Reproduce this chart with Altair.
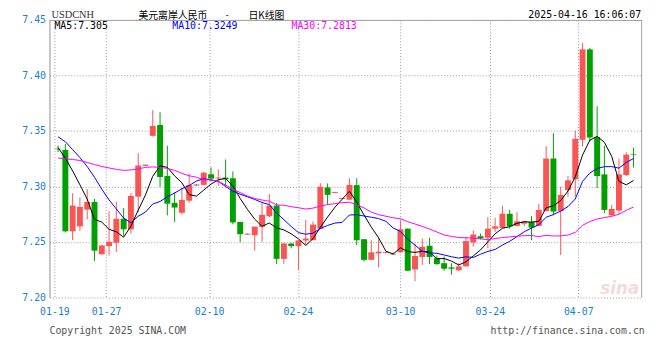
import altair as alt
import pandas as pd

# ---- data (USDCNH daily K-line) ----
opens = [7.3340, 7.3330, 7.2596, 7.2641, 7.2792, 7.2860, 7.2389, 7.2463, 7.2493, 7.2709,
         7.2614, 7.2908, 7.3186, 7.3456, 7.3554, 7.3094, 7.2852, 7.2763, 7.2872, 7.3008,
         7.3014, 7.3110, 7.3072, 7.3080, 7.3074, 7.2680, 7.2566, 7.2561, 7.2636, 7.2733,
         7.2828, 7.2348, 7.2486, 7.2463, 7.2513, 7.2516, 7.2620, 7.2991, 7.2942, 7.2887,
         7.2881, 7.3012, 7.2525, 7.2339, 7.2398, 7.2400, 7.2387, 7.2407, 7.2620, 7.2253,
         7.2365, 7.2466, 7.2354, 7.2309, 7.2271, 7.2245, 7.2280, 7.2496, 7.2552, 7.2538,
         7.2620, 7.2627, 7.2754, 7.2645, 7.2665, 7.2680, 7.2645, 7.2778, 7.3252, 7.2778,
         7.2967, 7.3065, 7.3420, 7.4235, 7.3444, 7.3109, 7.2739, 7.2783, 7.3103, 7.3290]
highs = [7.3370, 7.3382, 7.2940, 7.2902, 7.2976, 7.2887, 7.2472, 7.2775, 7.2863, 7.2805,
         7.2940, 7.3302, 7.3200, 7.3687, 7.3669, 7.3367, 7.2947, 7.2988, 7.3116, 7.3022,
         7.3130, 7.3172, 7.3154, 7.3243, 7.3136, 7.2682, 7.2578, 7.2638, 7.2852, 7.2932,
         7.2852, 7.2487, 7.2488, 7.2516, 7.2700, 7.2685, 7.3030, 7.3027, 7.2952, 7.2897,
         7.3074, 7.3074, 7.2527, 7.2516, 7.2531, 7.2412, 7.2405, 7.2694, 7.2622, 7.2487,
         7.2531, 7.2538, 7.2378, 7.2369, 7.2309, 7.2309, 7.2547, 7.2605, 7.2576, 7.2724,
         7.2718, 7.2828, 7.2790, 7.2769, 7.2688, 7.2733, 7.2843, 7.3361, 7.3480, 7.3000,
         7.3094, 7.3503, 7.4294, 7.4249, 7.3723, 7.3367, 7.2834, 7.3249, 7.3308, 7.3350]
lows = [7.3310, 7.2585, 7.2517, 7.2600, 7.2703, 7.2330, 7.2387, 7.2378, 7.2410, 7.2556,
        7.2576, 7.2769, 7.3185, 7.3450, 7.2996, 7.2739, 7.2680, 7.2748, 7.2852, 7.3006,
        7.3012, 7.3047, 7.3005, 7.3005, 7.2659, 7.2499, 7.2564, 7.2422, 7.2502, 7.2724,
        7.2300, 7.2303, 7.2443, 7.2247, 7.2472, 7.2516, 7.2620, 7.2834, 7.2940, 7.2885,
        7.2881, 7.2472, 7.2324, 7.2339, 7.2271, 7.2398, 7.2385, 7.2407, 7.2241, 7.2147,
        7.2294, 7.2300, 7.2294, 7.2241, 7.2205, 7.2241, 7.2280, 7.2458, 7.2523, 7.2443,
        7.2591, 7.2627, 7.2620, 7.2641, 7.2643, 7.2516, 7.2645, 7.2778, 7.2739, 7.2383,
        7.2907, 7.2907, 7.3361, 7.3405, 7.2985, 7.2760, 7.2739, 7.2754, 7.3094, 7.3170]
closes = [7.3335, 7.2596, 7.2828, 7.2816, 7.2860, 7.2422, 7.2469, 7.2502, 7.2709, 7.2614,
          7.2914, 7.3189, 7.3196, 7.3545, 7.3085, 7.2845, 7.2810, 7.2878, 7.3012, 7.3018,
          7.3124, 7.3071, 7.3080, 7.3065, 7.2676, 7.2570, 7.2575, 7.2638, 7.2745, 7.2828,
          7.2348, 7.2487, 7.2463, 7.2514, 7.2531, 7.2656, 7.2997, 7.2925, 7.2950, 7.2895,
          7.3014, 7.2516, 7.2339, 7.2407, 7.2413, 7.2408, 7.2395, 7.2614, 7.2241, 7.2374,
          7.2457, 7.2365, 7.2301, 7.2259, 7.2259, 7.2280, 7.2508, 7.2567, 7.2532, 7.2620,
          7.2641, 7.2754, 7.2641, 7.2686, 7.2686, 7.2629, 7.2789, 7.3252, 7.2774, 7.2923,
          7.3056, 7.3429, 7.4235, 7.3441, 7.3094, 7.2789, 7.2798, 7.3109, 7.3287, 7.3285]
ma5 = [7.3350, 7.3255, 7.3140, 7.3015, 7.2886, 7.2704, 7.2679, 7.2614, 7.2592, 7.2543,
       7.2642, 7.2786, 7.2924, 7.3092, 7.3186, 7.3172, 7.3096, 7.3033, 7.2926, 7.2913,
       7.2968, 7.3021, 7.3061, 7.3072, 7.3003, 7.2892, 7.2793, 7.2705, 7.2641, 7.2671,
       7.2627, 7.2609, 7.2574, 7.2528, 7.2469, 7.2530, 7.2632, 7.2725, 7.2812, 7.2885,
       7.2956, 7.2860, 7.2743, 7.2634, 7.2538, 7.2417, 7.2392, 7.2447, 7.2414, 7.2406,
       7.2416, 7.2410, 7.2348, 7.2351, 7.2328, 7.2293, 7.2321, 7.2375, 7.2429, 7.2501,
       7.2574, 7.2623, 7.2638, 7.2668, 7.2682, 7.2679, 7.2686, 7.2808, 7.2826, 7.2873,
       7.2959, 7.3087, 7.3283, 7.3417, 7.3451, 7.3398, 7.3271, 7.3046, 7.3015, 7.3054]
ma10 = [7.3447, 7.3403, 7.3332, 7.3260, 7.3180, 7.3083, 7.2976, 7.2878, 7.2798, 7.2715,
        7.2673, 7.2732, 7.2769, 7.2842, 7.2865, 7.2907, 7.2941, 7.2979, 7.3009, 7.3049,
        7.3070, 7.3058, 7.3047, 7.2999, 7.2958, 7.2930, 7.2907, 7.2883, 7.2856, 7.2837,
        7.2760, 7.2701, 7.2640, 7.2584, 7.2570, 7.2579, 7.2621, 7.2649, 7.2670, 7.2677,
        7.2743, 7.2746, 7.2734, 7.2723, 7.2711, 7.2686, 7.2626, 7.2595, 7.2524, 7.2472,
        7.2416, 7.2401, 7.2398, 7.2383, 7.2367, 7.2355, 7.2366, 7.2361, 7.2390, 7.2415,
        7.2433, 7.2472, 7.2506, 7.2549, 7.2592, 7.2626, 7.2655, 7.2723, 7.2747, 7.2778,
        7.2819, 7.2887, 7.3046, 7.3121, 7.3162, 7.3178, 7.3179, 7.3165, 7.3216, 7.3252]
ma30 = [7.3256, 7.3249, 7.3243, 7.3234, 7.3216, 7.3198, 7.3180, 7.3167, 7.3154, 7.3145,
        7.3149, 7.3158, 7.3172, 7.3176, 7.3172, 7.3163, 7.3145, 7.3118, 7.3096, 7.3083,
        7.3060, 7.3060, 7.3047, 7.3012, 7.2976, 7.2945, 7.2914, 7.2892, 7.2878, 7.2867,
        7.2834, 7.2831, 7.2818, 7.2808, 7.2797, 7.2805, 7.2823, 7.2837, 7.2845, 7.2854,
        7.2858, 7.2835, 7.2807, 7.2769, 7.2746, 7.2732, 7.2718, 7.2709, 7.2683, 7.2662,
        7.2640, 7.2616, 7.2590, 7.2563, 7.2550, 7.2540, 7.2538, 7.2535, 7.2528, 7.2521,
        7.2531, 7.2540, 7.2546, 7.2552, 7.2557, 7.2558, 7.2549, 7.2560, 7.2554, 7.2555,
        7.2562, 7.2587, 7.2650, 7.2684, 7.2707, 7.2720, 7.2731, 7.2750, 7.2785, 7.2815]

date_ticks = [-0.5, 6.61, 20.74, 32.93, 46.97, 59.27, 71.41]
date_labels = ["01-19", "01-27", "02-10", "02-24", "03-10", "03-24", "04-07"]
price_ticks = [7.20, 7.25, 7.30, 7.35, 7.40, 7.45]
ma_names = ["MA5", "MA10", "MA30"]

RED = "#fa5555"
GREEN = "#00a000"
AXBLUE = "#1a7fd0"
MONO = "DejaVu Sans Mono"

n = len(closes)
idx = list(range(n))
df = pd.DataFrame({"i": idx, "o": opens, "h": highs, "l": lows, "c": closes})
df["dir"] = ["up" if c >= o else "down" for o, c in zip(opens, closes)]
ma = pd.DataFrame({
    "i": idx * 3,
    "v": ma5 + ma10 + ma30,
    "s": [ma_names[0]] * n + [ma_names[1]] * n + [ma_names[2]] * n,
})

label_expr = " : ".join(
    f"datum.value == {p} ? '{l}'" for p, l in zip(date_ticks, date_labels)
) + " : ''"

xs = alt.Scale(domain=[-0.5, n - 0.5], nice=False, zero=False)
ys = alt.Scale(domain=[7.20, 7.45], nice=False, zero=False)
xaxis = alt.Axis(values=date_ticks, labelExpr=label_expr, grid=True, gridDash=[1, 2],
                 gridColor="#9a9a9a", domain=False, ticks=False, labelFont=MONO,
                 labelFontSize=10, labelColor=AXBLUE, labelPadding=9, labelFlush=False,
                 labelOverlap=False, title=None)
yaxis = alt.Axis(values=price_ticks, format=".2f", grid=True, gridDash=[1, 2],
                 gridColor="#9a9a9a", domain=True, domainColor="#909090", ticks=False,
                 labelFont=MONO, labelFontSize=10, labelColor=AXBLUE, labelPadding=4,
                 labelFlush=False, title=None)

dir_color = alt.Color("dir:N", scale=alt.Scale(domain=["up", "down"], range=[RED, GREEN]),
                      legend=None)
base = alt.Chart(df)
wicks = base.mark_rule(strokeWidth=1).encode(
    x=alt.X("i:Q", scale=xs, axis=xaxis),
    y=alt.Y("l:Q", scale=ys, axis=yaxis),
    y2="h:Q",
    color=dir_color,
)
bodies = base.mark_bar(size=6).encode(
    x=alt.X("i:Q", scale=xs, axis=xaxis),
    y=alt.Y("o:Q", scale=ys, axis=yaxis),
    y2="c:Q",
    color=dir_color,
)
lines = alt.Chart(ma).mark_line(strokeWidth=1).encode(
    x=alt.X("i:Q", scale=xs, axis=xaxis),
    y=alt.Y("v:Q", scale=ys, axis=yaxis),
    color=alt.Color("s:N", scale=alt.Scale(domain=ma_names,
                                          range=["#000000", "#0000ff", "#ff00ff"]),
                    legend=None),
    detail="s:N",
)


def label(text, x, y, **kw):
    return alt.Chart(pd.DataFrame({"t": [text]})).mark_text(**kw).encode(
        x=alt.value(x), y=alt.value(y), text="t:N")


frame_top = alt.Chart(pd.DataFrame({"k": [0]})).mark_rule(color="#a0a0a0", strokeWidth=1).encode(
    x=alt.value(0), x2=alt.value(600), y=alt.value(0.5))
frame_right = alt.Chart(pd.DataFrame({"k": [0]})).mark_rule(color="#a0a0a0", strokeWidth=1).encode(
    x=alt.value(599.5), y=alt.value(0), y2=alt.value(281))

TITLE_Y = -4.3
texts = [
    label("USDCNH", 2, -5, font="Liberation Serif", fontSize=10.5, align="left",
          baseline="middle", color="#333333"),
    label("美元离岸人民币", 90, TITLE_Y, font="Noto Sans CJK SC", fontSize=10, align="left",
          baseline="middle", color="#000000"),
    label("-", 180, -5, font=MONO, fontSize=9, align="center",
          baseline="middle", color="#000000"),
    label("日K线图", 201.5, TITLE_Y, font="Noto Sans CJK SC", fontSize=10, align="left",
          baseline="middle", color="#000000"),
    label("2025-04-16 16:06:07", 599, -5, font=MONO, fontSize=10, align="right",
          baseline="middle", color="#000000"),
    label("MA5:7.305", 5, 6, font=MONO, fontSize=10, align="left",
          baseline="middle", color="#000000"),
    label("MA10:7.3249", 124.3, 6, font=MONO, fontSize=10, align="left",
          baseline="middle", color="#0000ff"),
    label("MA30:7.2813", 245, 6, font=MONO, fontSize=10, align="left",
          baseline="middle", color="#ff00ff"),
    label("Copyright 2025 SINA.COM", 0, 315, font=MONO, fontSize=10, align="left",
          baseline="middle", color="#555555"),
    label("http://finance.sina.com.cn", 602.7, 315, font=MONO, fontSize=10, align="right",
          baseline="middle", color="#555555"),
    label("sina", 597, 277, font="DejaVu Sans", fontSize=17, fontStyle="italic",
          fontWeight="bold", align="right", baseline="alphabetic", color="#f4dada"),
]

chart = alt.layer(wicks, bodies, lines, frame_top, frame_right, *texts).resolve_scale(
    color="independent"
).properties(
    width=600,
    height=281,
    padding={"left": 42, "top": 10, "right": 10, "bottom": 45},
    autosize=alt.AutoSizeParams(type="none"),
    background="#ffffff",
).configure_view(stroke=None)

chart.save("out.html", embed_options={"renderer": "svg", "actions": False})
